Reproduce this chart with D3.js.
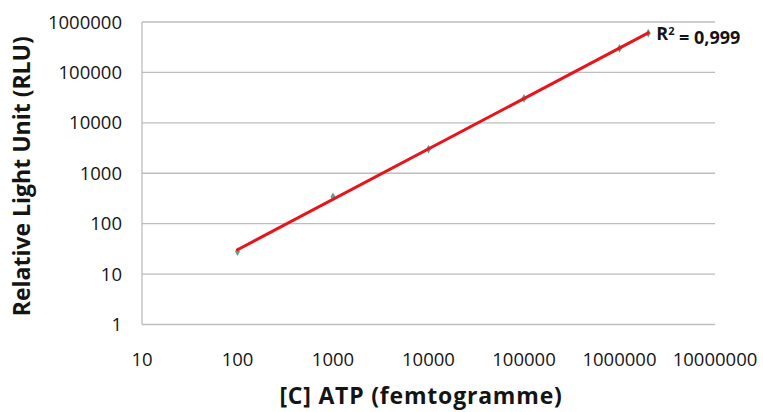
<!DOCTYPE html>
<html lang="fr">
<head>
<meta charset="UTF-8">
<title>ATP RLU</title>
<script src="https://d3js.org/d3.v7.min.js"></script>
<style>
    body { margin: 0; background: #fff; }
    svg text { font-family: "Open Sans", "Liberation Sans", sans-serif; fill: #141414; }
</style>
</head>
<body>
<div id="chart"></div>
<script>
    // data
    const atp = [100, 1000, 10000, 100000, 1000000, 2000000]
    const rlu = [28, 340, 3000, 30500, 300000, 600000]
    const xTicks = [10, 100, 1000, 10000, 100000, 1000000, 10000000]
    const yTicks = [1, 10, 100, 1000, 10000, 100000, 1000000]
    const r2Label = "0,999"

    const width = 763, height = 412
    const margin = {top: 22, left: 142, right: 48, bottom: 87.5}
    const w = width - margin.left - margin.right
    const h = height - margin.top - margin.bottom

    const svg = d3.select("#chart").append("svg")
        .attr("width", width)
        .attr("height", height)

    const g = svg.append("g")
        .attr("transform", "translate(" + margin.left + "," + margin.top + ")")

    const x = d3.scaleLog().domain([10, 10000000]).range([0, w])
    const y = d3.scaleLog().domain([1, 1000000]).range([h, 0])

    // horizontal grid
    g.selectAll("line.grid").data(yTicks).enter()
        .append("line")
        .attr("class", "grid")
        .attr("x1", 0).attr("x2", w)
        .attr("y1", d => y(d)).attr("y2", d => y(d))
        .attr("stroke", "#bdbdbd")
        .attr("stroke-width", 1.3)

    // left axis line
    g.append("line")
        .attr("x1", 0).attr("x2", 0)
        .attr("y1", 0).attr("y2", h)
        .attr("stroke", "#bdbdbd")
        .attr("stroke-width", 1.3)

    // y tick labels
    g.selectAll("text.ylab").data(yTicks).enter()
        .append("text")
        .attr("class", "ylab")
        .attr("x", -20)
        .attr("y", d => y(d))
        .attr("dy", "0.36em")
        .attr("text-anchor", "end")
        .style("font-size", "18.5px")
        .text(d => d)

    // x tick labels
    g.selectAll("text.xlab").data(xTicks).enter()
        .append("text")
        .attr("class", "xlab")
        .attr("x", d => x(d))
        .attr("y", h + 35)
        .attr("dy", "0.36em")
        .attr("text-anchor", "middle")
        .style("font-size", "18.5px")
        .text(d => d)

    // power trendline, fitted in log-log space
    const lx = atp.map(Math.log10), ly = rlu.map(Math.log10)
    const mx = d3.mean(lx), my = d3.mean(ly)
    const slope = d3.sum(lx.map((v, i) => (v - mx) * (ly[i] - my))) / d3.sum(lx.map(v => (v - mx) ** 2))
    const icpt = my - slope * mx
    const fit = v => Math.pow(10, icpt + slope * Math.log10(v))
    const ends = d3.extent(atp)

    // markers
    g.selectAll("path.dot").data(atp).enter()
        .append("path")
        .attr("class", "dot")
        .attr("d", d3.symbol(d3.symbolDiamond, 22))
        .attr("transform", (d, i) => "translate(" + x(d) + "," + y(rlu[i]) + ")")
        .attr("fill", "#5aa880")

    g.append("line")
        .attr("x1", x(ends[0])).attr("y1", y(fit(ends[0])))
        .attr("x2", x(ends[1])).attr("y2", y(fit(ends[1])))
        .attr("stroke", "#e8141c")
        .attr("stroke-width", 3)
        .attr("stroke-linecap", "round")

    // R² label
    const r2 = g.append("text")
        .attr("x", x(ends[1]) + 8)
        .attr("y", y(fit(ends[1])) + 1)
        .attr("dy", "0.36em")
        .style("font-size", "18px")
        .style("font-weight", "bold")
    r2.append("tspan").text("R")
    r2.append("tspan").attr("dy", "-0.45em").style("font-size", "11px").text("2")
    r2.append("tspan").attr("dy", "0.45em").text(" = " + r2Label)

    // axis titles
    svg.append("text")
        .attr("transform", "translate(22," + (margin.top + h / 2 + 3) + ") rotate(-90)")
        .attr("dy", "0.36em")
        .attr("text-anchor", "middle")
        .style("font-size", "23px")
        .style("font-weight", "bold")
        .text("Relative Light Unit (RLU)")

    svg.append("text")
        .attr("x", 421)
        .attr("y", 396)
        .attr("dy", "0.36em")
        .attr("text-anchor", "middle")
        .style("font-size", "23px")
        .style("font-weight", "bold")
        .style("letter-spacing", "0.8px")
        .text("[C] ATP (femtogramme)")
</script>
</body>
</html>
